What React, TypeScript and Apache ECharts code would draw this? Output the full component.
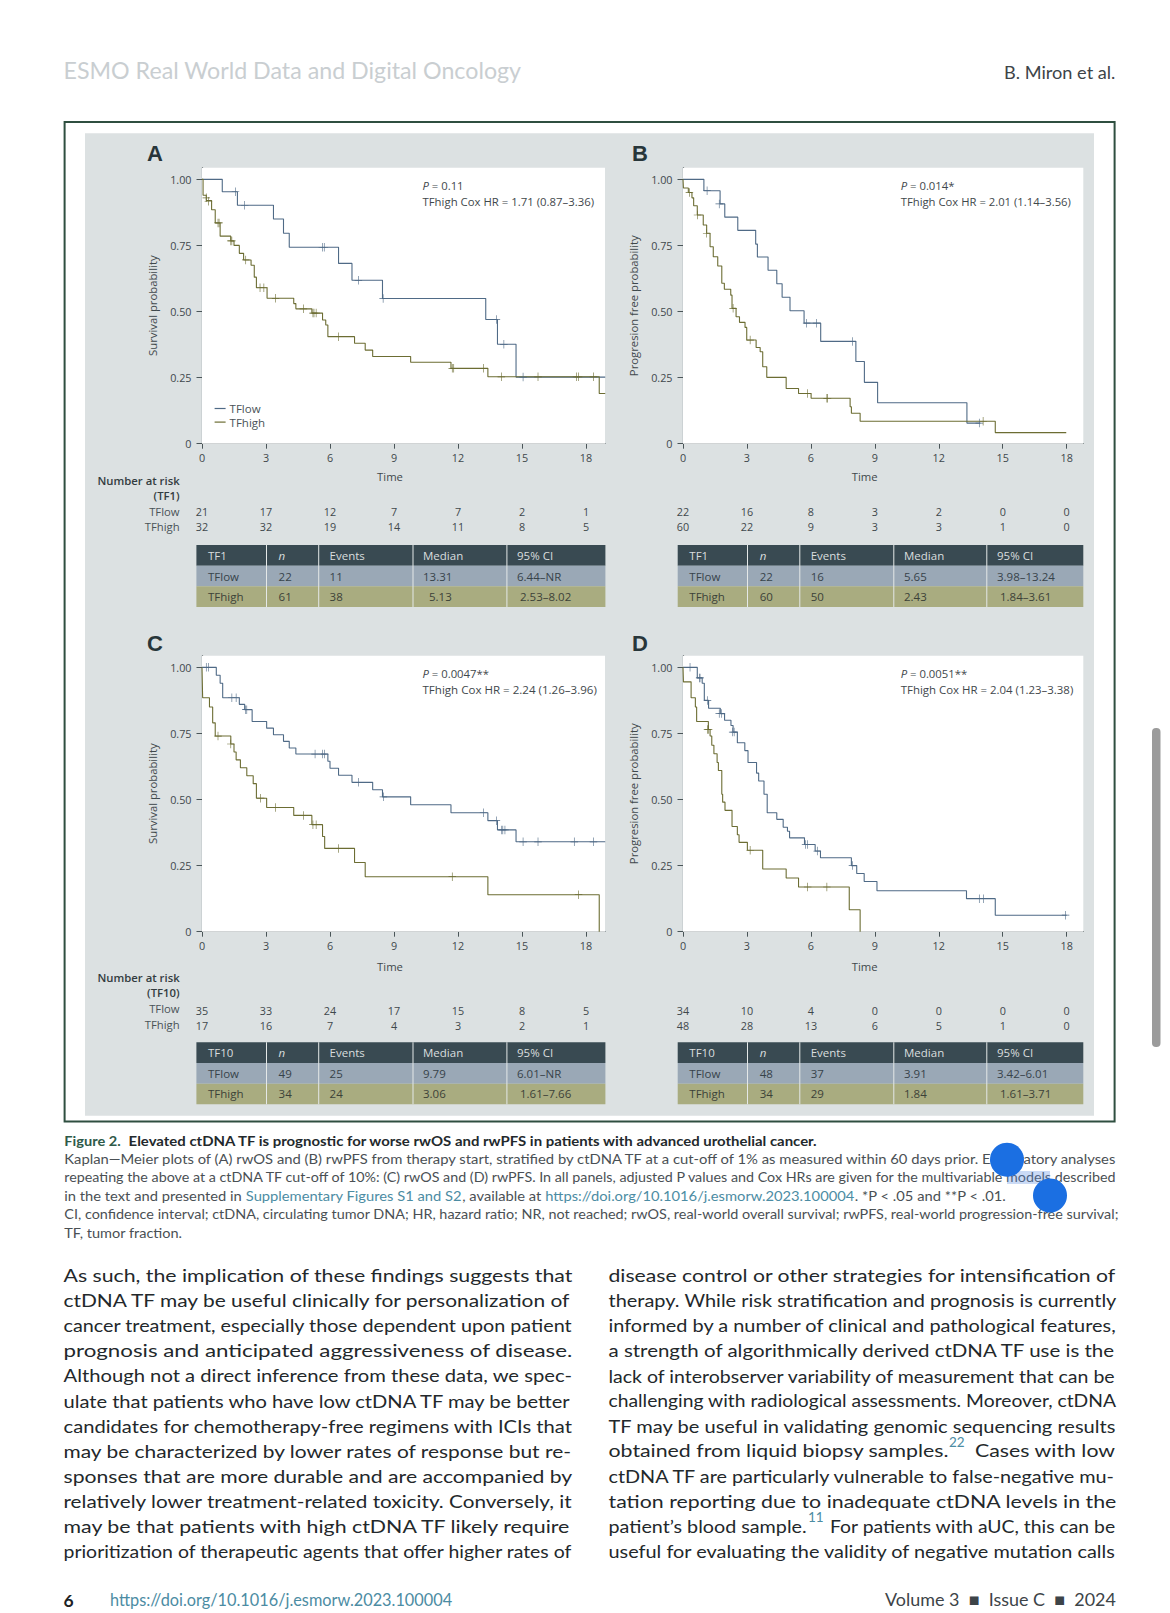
import React, { useEffect, useRef } from "react";
import * as echarts from "echarts";

const FONT = '"Open Sans"';
const BODY = "Lato";
const BODY_FIX = 1.004;
const LOW = "#4f6a86";
const HIGH = "#6c6d33";

const monthTicks = [0, 3, 6, 9, 12, 15, 18];
const probTicks = [0, 0.25, 0.5, 0.75, 1];

const aLow = [[0,1],[0.95,0.953],[1.66,0.902],[3.35,0.85],[3.82,0.796],[4.09,0.743],[6.4,0.682],[7.03,0.618],[8.46,0.549],[13.3,0.47],[13.85,0.376],[14.72,0.252],[18.9,0.252]];
const aLowCensor = [[1.57,0.953],[2.0,0.902],[5.64,0.743],[5.73,0.743],[7.33,0.618],[8.49,0.549],[13.8,0.47],[14.15,0.376],[15.05,0.252]];
const aHigh = [[0,1],[0.05,0.94],[0.2,0.92],[0.45,0.885],[0.62,0.835],[0.85,0.785],[1.35,0.767],[1.5,0.75],[1.75,0.72],[1.95,0.695],[2.3,0.675],[2.45,0.63],[2.55,0.59],[3.05,0.55],[4.3,0.53],[4.4,0.51],[5.15,0.494],[5.65,0.468],[5.8,0.449],[5.9,0.405],[7.15,0.38],[7.65,0.354],[8.0,0.33],[9.78,0.308],[11.67,0.285],[13.4,0.253],[18.62,0.19],[18.9,0.19]];
const aHighCensor = [[0.2,0.93],[0.3,0.917],[0.75,0.835],[0.8,0.835],[1.35,0.767],[1.4,0.767],[2.05,0.695],[2.72,0.59],[2.9,0.59],[3.45,0.55],[4.75,0.51],[5.2,0.494],[5.25,0.494],[5.35,0.494],[6.4,0.405],[11.73,0.285],[11.8,0.285],[13.2,0.285],[14.03,0.253],[15.75,0.253],[17.55,0.253],[17.65,0.253],[18.35,0.253]];

const bLow = [[0,1],[0.98,0.957],[1.74,0.907],[1.96,0.857],[2.57,0.807],[3.41,0.755],[3.49,0.706],[3.99,0.656],[4.4,0.605],[4.65,0.554],[5.02,0.503],[5.68,0.456],[6.46,0.387],[8.11,0.311],[8.51,0.232],[9.13,0.155],[13.32,0.078],[13.95,0.078]];
const bLowCensor = [[1.13,0.957],[1.7,0.907],[5.8,0.456],[6.27,0.456],[7.95,0.387],[13.9,0.078]];
const bHigh = [[0,1],[0.02,0.967],[0.25,0.95],[0.42,0.93],[0.5,0.9],[0.67,0.865],[0.95,0.827],[1.11,0.796],[1.27,0.745],[1.42,0.707],[1.63,0.672],[1.82,0.607],[1.94,0.584],[2.24,0.562],[2.3,0.512],[2.49,0.48],[2.65,0.459],[2.91,0.44],[2.99,0.392],[3.43,0.364],[3.62,0.348],[3.74,0.291],[3.93,0.251],[4.84,0.209],[5.42,0.19],[6.01,0.172],[7.84,0.14],[7.9,0.115],[8.31,0.085],[14.65,0.042],[17.98,0.042]];
const bHighCensor = [[0.3,0.95],[0.68,0.865],[1.11,0.796],[2.35,0.512],[3.15,0.392],[5.85,0.19],[6.75,0.172],[6.78,0.172],[14.08,0.085]];

const cLow = [[0,1],[0.67,0.97],[0.85,0.94],[0.97,0.885],[1.75,0.86],[2.0,0.84],[2.35,0.795],[3.03,0.77],[3.35,0.745],[3.82,0.72],[4.09,0.695],[4.4,0.672],[5.9,0.645],[6.0,0.618],[6.4,0.592],[7.03,0.565],[8.0,0.537],[8.46,0.51],[9.78,0.48],[11.67,0.45],[13.4,0.42],[13.85,0.385],[14.72,0.34],[18.9,0.34]];
const cLowCensor = [[0.2,1],[0.3,1],[1.4,0.885],[1.6,0.885],[2.05,0.84],[2.1,0.84],[5.3,0.672],[5.65,0.672],[5.75,0.672],[7.33,0.565],[8.5,0.51],[13.2,0.45],[13.8,0.42],[14.05,0.385],[14.1,0.385],[14.2,0.385],[15.05,0.34],[15.75,0.34],[17.45,0.34],[18.35,0.34]];
const cHigh = [[0,1],[0.03,0.885],[0.35,0.85],[0.5,0.79],[0.62,0.74],[1.35,0.71],[1.5,0.68],[1.6,0.65],[1.8,0.62],[2.1,0.59],[2.4,0.56],[2.55,0.505],[3.03,0.47],[4.3,0.44],[5.15,0.405],[5.65,0.36],[5.75,0.315],[7.15,0.262],[7.65,0.208],[13.4,0.14],[18.62,0]];
const cHighCensor = [[0.75,0.74],[1.35,0.71],[2.75,0.505],[3.45,0.47],[4.75,0.44],[5.2,0.405],[5.35,0.405],[6.4,0.315],[11.73,0.208],[17.65,0.14]];

const dLow = [[0,1],[0.67,0.96],[0.9,0.94],[1.0,0.875],[1.2,0.845],[1.75,0.825],[1.95,0.8],[2.25,0.78],[2.35,0.755],[2.55,0.715],[2.9,0.685],[3.05,0.64],[3.45,0.6],[3.55,0.57],[3.8,0.52],[3.95,0.45],[4.4,0.425],[4.7,0.395],[4.9,0.38],[5.0,0.355],[5.7,0.33],[6.2,0.305],[6.45,0.28],[7.9,0.25],[8.15,0.22],[8.5,0.19],[9.1,0.155],[13.3,0.125],[14.65,0.0625],[18,0.0625]];
const dLowCensor = [[0.33,1],[0.78,0.96],[0.8,0.96],[1.15,0.875],[1.7,0.825],[1.8,0.825],[2.33,0.755],[2.4,0.755],[5.75,0.33],[5.85,0.33],[6.3,0.305],[7.95,0.25],[13.9,0.125],[14.1,0.125],[17.95,0.0625]];
const dHigh = [[0,1],[0.02,0.945],[0.38,0.885],[0.58,0.85],[0.64,0.795],[1.19,0.765],[1.27,0.74],[1.35,0.705],[1.45,0.673],[1.6,0.64],[1.66,0.61],[1.82,0.52],[1.86,0.49],[1.97,0.459],[2.3,0.398],[2.55,0.367],[2.63,0.338],[3.02,0.308],[3.74,0.237],[4.84,0.203],[5.42,0.169],[7.8,0.083],[8.31,0]];
const dHighCensor = [[1.15,0.765],[1.2,0.765],[3.15,0.308],[5.85,0.169],[6.75,0.169]];

const riskA = [["21","17","12","7","7","2","1"],["32","32","19","14","11","8","5"]];
const riskB = [["22","16","8","3","2","0","0"],["60","22","9","3","3","1","0"]];
const riskC = [["35","33","24","17","15","8","5"],["17","16","7","4","3","2","1"]];
const riskD = [["34","10","4","0","0","0","0"],["48","28","13","6","5","1","0"]];

const tableA = [["TF1","n","Events","Median","95% CI"],["TFlow","22","11","13.31","6.44–NR"],["TFhigh","61","38","5.13","2.53–8.02"]];
const tableB = [["TF1","n","Events","Median","95% CI"],["TFlow","22","16","5.65","3.98–13.24"],["TFhigh","60","50","2.43","1.84–3.61"]];
const tableC = [["TF10","n","Events","Median","95% CI"],["TFlow","49","25","9.79","6.01–NR"],["TFhigh","34","24","3.06","1.61–7.66"]];
const tableD = [["TF10","n","Events","Median","95% CI"],["TFlow","48","37","3.91","3.42–6.01"],["TFhigh","34","29","1.84","1.61–3.71"]];

const bodyLeft = [
  "As such, the implication of these findings suggests that",
  "ctDNA TF may be useful clinically for personalization of",
  "cancer treatment, especially those dependent upon patient",
  "prognosis and anticipated aggressiveness of disease.",
  "Although not a direct inference from these data, we spec-",
  "ulate that patients who have low ctDNA TF may be better",
  "candidates for chemotherapy-free regimens with ICIs that",
  "may be characterized by lower rates of response but re-",
  "sponses that are more durable and are accompanied by",
  "relatively lower treatment-related toxicity. Conversely, it",
  "may be that patients with high ctDNA TF likely require",
  "prioritization of therapeutic agents that offer higher rates of",
];
const bodyRight = [
  "disease control or other strategies for intensification of",
  "therapy. While risk stratification and prognosis is currently",
  "informed by a number of clinical and pathological features,",
  "a strength of algorithmically derived ctDNA TF use is the",
  "lack of interobserver variability of measurement that can be",
  "challenging with radiological assessments. Moreover, ctDNA",
  "TF may be useful in validating genomic sequencing results",
  "",
  "ctDNA TF are particularly vulnerable to false-negative mu-",
  "tation reporting due to inadequate ctDNA levels in the",
  "",
  "useful for evaluating the validity of negative mutation calls",
];
const captionLines = [
  "Kaplan—Meier plots of (A) rwOS and (B) rwPFS from therapy start, stratified by ctDNA TF at a cut-off of 1% as measured within 60 days prior. Exploratory analyses",
  "repeating the above at a ctDNA TF cut-off of 10%: (C) rwOS and (D) rwPFS. In all panels, adjusted P values and Cox HRs are given for the multivariable models described",
];
const captionLast = "CI, confidence interval; ctDNA, circulating tumor DNA; HR, hazard ratio; NR, not reached; rwOS, real-world overall survival; rwPFS, real-world progression-free survival;";

const canvasCtx = document.createElement("canvas").getContext("2d") as CanvasRenderingContext2D;
const widthOf = (t: string, size: number, weight = "normal", family = FONT) => {
  canvasCtx.font = `${weight} ${size}px ${family}`;
  return canvasCtx.measureText(t).width;
};

const txt = (text: string, x: number, y: number, size: number, fill: string, o: any = {}) => ({
  type: "text",
  x,
  y,
  scaleX: o.scaleX ?? 1,
  z: 20,
  silent: true,
  style: {
    text,
    fill,
    fontSize: size,
    fontFamily: o.family ?? FONT,
    fontWeight: o.weight ?? "normal",
    fontStyle: o.italic ? "italic" : "normal",
    align: o.align ?? "left",
    textAlign: o.align ?? "left",
    verticalAlign: "middle",
    textVerticalAlign: "middle",
    rich: o.rich,
  },
});

const fit = (text: string, x0: number, x1: number, y: number, size: number, fill: string, weight = "normal", family = FONT) =>
  txt(text, x0, y, size, fill, { weight, family, scaleX: ((x1 - x0) / widthOf(text, size, weight, family)) * (family === BODY ? BODY_FIX : 1) });

const rect = (x: number, y: number, w: number, h: number, fill: string, z = 5, extra: any = {}) => ({
  type: "rect",
  z,
  silent: true,
  shape: { x, y, width: w, height: h, r: extra.r ?? 0 },
  style: { fill, stroke: extra.stroke, lineWidth: extra.lineWidth ?? 0 },
});

const panels = [
  { letter: "A", left: 202, top: 167.7, right: 605, xMax: 18.89, low: aLow, lowC: aLowCensor, high: aHigh, highC: aHighCensor, yName: "Survival probability", p: "= 0.11", hr: "TFhigh Cox HR = 1.71 (0.87–3.36)", risk: riskA, table: tableA, tfName: "(TF1)", shift: 27, riskOff: 343.8, tableOff: 377.3, nameGap: 27, letterOff: -14.7 },
  { letter: "B", left: 683, top: 167.7, right: 1083.3, xMax: 18.78, low: bLow, lowC: bLowCensor, high: bHigh, highC: bHighCensor, yName: "Progresion free probability", p: " = 0.014*", hr: "TFhigh Cox HR = 2.01 (1.14–3.56)", risk: riskB, table: tableB, tfName: "", shift: 37, riskOff: 343.8, tableOff: 377.3, nameGap: 27, letterOff: -14.7 },
  { letter: "C", left: 202, top: 655.7, right: 605, xMax: 18.89, low: cLow, lowC: cLowCensor, high: cHigh, highC: cHighCensor, yName: "Survival probability", p: "= 0.0047**", hr: "TFhigh Cox HR = 2.24 (1.26–3.96)", risk: riskC, table: tableC, tfName: "(TF10)", shift: 27, riskOff: 354.3, tableOff: 386.6, nameGap: 29, letterOff: -12.7 },
  { letter: "D", left: 683, top: 655.7, right: 1083.3, xMax: 18.78, low: dLow, lowC: dLowCensor, high: dHigh, highC: dHighCensor, yName: "Progresion free probability", p: " = 0.0051**", hr: "TFhigh Cox HR = 2.04 (1.23–3.38)", risk: riskD, table: tableD, tfName: "", shift: 37, riskOff: 354.3, tableOff: 386.6, nameGap: 29, letterOff: -12.7 },
];

const PLOT_H = 276;
const PLUS = "path://M4.6 0h0.8v4.6h4.6v0.8h-4.6v4.6h-0.8v-4.6h-4.6v-0.8h4.6z";

function tableGraphics(p: any) {
  const isLeft = p.left < 400;
  const x0 = isLeft ? 196.4 : 677.7;
  const x1 = p.right + (isLeft ? 0.4 : 0);
  const seps = isLeft ? [266, 318.2, 412.5, 506.4] : [747, 799.3, 893.3, 986.3];
  const tx = isLeft ? [208, 278.6, 329.6, 423, 517] : [689.3, 759.7, 810.7, 904, 997];
  const top = p.top + p.tableOff;
  const rowH = 20.67;
  const fills = ["#394a52", "#9aa8b6", "#a9ac80"];
  const colors = ["#d9dedf", "#37434a", "#3c4238"];
  const out: any[] = [];
  fills.forEach((f, r) => {
    out.push(rect(x0, top + r * rowH, x1 - x0, rowH, f, 6));
    p.table[r].forEach((cell: string, c: number) => {
      let x = tx[c];
      if (r === 2 && c === 4) x += 3;
      if (r === 2 && c === 3 && p.letter === "A") x += 6;
      out.push(txt(cell, x, top + (r + 0.5) * rowH, 11.5, colors[r], { italic: r === 0 && c === 1 }));
    });
  });
  seps.forEach((s) => out.push(rect(s, top, 1, rowH * 3, "#e4e8e8", 7)));
  return out;
}

function panelGraphics(p: any) {
  const isLeft = p.left < 400;
  const pxPerMonth = (p.right - p.left) / p.xMax;
  const annX = isLeft ? 422.5 : 900.7;
  const out: any[] = [];
  out.push(txt(p.letter, isLeft ? 147 : 632, p.top + p.letterOff, 22, "#28363a", { weight: "bold", family: '"Liberation Sans"' }));
  const rich = {
    i: { fontStyle: "italic", fontSize: 11.3, fontFamily: FONT, fill: "#3f484c" },
    n: { fontSize: 11.3, fontFamily: FONT, fill: "#3f484c" },
  };
  out.push(txt(`{i|P}{n| ${p.p.trim()}}`, annX, p.top + 17.5, 11.3, "#3f484c", { rich }));
  out.push(fit(p.hr, annX, isLeft ? (p.letter === "A" ? 594 : 597) : p.letter === "B" ? 1071 : 1073.5, p.top + 33.5, 11.3, "#3f484c"));
  const yLow = p.top + p.riskOff;
  p.risk.forEach((row: string[], r: number) => {
    row.forEach((v, i) => {
      out.push(txt(v, p.left + monthTicks[i] * pxPerMonth, yLow + r * 15.4, 10.8, "#3f484c", { align: "center" }));
    });
  });
  if (isLeft) {
    const ny = p.top + (p.letter === "A" ? 312.3 : 321.6);
    const lx = 179.6;
    out.push(txt("Number at risk", lx, ny, 11.3, "#333c40", { align: "right", weight: 600 }));
    out.push(txt(p.tfName, lx, ny + 15.6, 11.3, "#333c40", { align: "right", weight: 600 }));
    out.push(txt("TFlow", lx, ny + 31.2, 11.3, "#4a5357", { align: "right" }));
    out.push(txt("TFhigh", lx, ny + 46.8, 11.3, "#4a5357", { align: "right" }));
  }
  return out.concat(tableGraphics(p));
}

function pageGraphics() {
  const out: any[] = [];
  // page frame and grey panel
  out.push(rect(64.6, 122, 1050, 999.6, "#ffffff", -2, { stroke: "#2f4f40", lineWidth: 2 }));
  out.push(rect(85, 133.3, 1009, 982.4, "#dce1e2", -1));
  // header
  out.push(fit("ESMO Real World Data and Digital Oncology", 63.5, 519.5, 70, 24, "#c9ced1", "normal", BODY));
  out.push(fit("B. Miron et al.", 1004, 1115, 72, 17.5, "#3d4448", "normal", BODY));
  // caption
  const capCol = "#4a5054";
  const cap = 13;
  out.push(fit("Figure 2.", 64.3, 120.5, 1140.7, cap, "#2e5a49", "bold", BODY));
  out.push(fit("Elevated ctDNA TF is prognostic for worse rwOS and rwPFS in patients with advanced urothelial cancer.", 128.6, 816.5, 1140.7, cap, "#23292c", "bold", BODY));
  out.push(fit(captionLines[0], 64.3, 1115.5, 1158.8, cap, capCol, "normal", BODY));
  out.push(fit(captionLines[1], 64.3, 1115.5, 1177.2, cap, capCol, "normal", BODY));
  const link = "#4c8ca3";
  const p1 = "in the text and presented in ";
  const p2 = "Supplementary Figures S1 and S2";
  const p3 = ", available at ";
  const p4 = "https://doi.org/10.1016/j.esmorw.2023.100004";
  const p5 = ". *P < .05 and **P < .01.";
  const wCap = widthOf(p1 + p2 + p3 + p4 + p5, cap, "normal", BODY);
  out.push(
    txt(`{a|${p1}}{b|${p2}}{a|${p3}}{b|${p4}}{a|${p5}}`, 64.3, 1195.6, cap, capCol, {
      family: BODY,
      scaleX: (1007 - 64.3) / wCap,
      rich: {
        a: { fill: capCol, fontSize: cap, fontFamily: BODY },
        b: { fill: link, fontSize: cap, fontFamily: BODY },
      },
    })
  );
  out.push(fit(captionLast, 64.3, 1115.5, 1214.2, cap, capCol, "normal", BODY));
  out.push(fit("TF, tumor fraction.", 64.3, 182, 1232.6, cap, capCol, "normal", BODY));
  // body
  const bodyCol = "#23282b";
  const bs = 18;
  const y0 = 1275;
  const pitch = 25.09;
  bodyLeft.forEach((l, i) => out.push(fit(l, 63.5, 571, y0 + i * pitch, bs, bodyCol, "normal", BODY)));
  bodyRight.forEach((l, i) => {
    if (l) out.push(fit(l, 608.5, 1115, y0 + i * pitch, bs, bodyCol, "normal", BODY));
  });
  const y7 = y0 + 7 * pitch;
  out.push(fit("obtained from liquid biopsy samples.", 608.5, 948, y7, bs, bodyCol, "normal", BODY));
  out.push(txt("22", 949, y7 - 9, 13.5, link, { family: BODY }));
  out.push(fit("Cases with low", 975, 1115, y7, bs, bodyCol, "normal", BODY));
  const y10 = y0 + 10 * pitch;
  out.push(fit("patient’s blood sample.", 608.5, 806, y10, bs, bodyCol, "normal", BODY));
  out.push(txt("11", 808, y10 - 9, 13.5, link, { family: BODY }));
  out.push(fit("For patients with aUC, this can be", 830, 1115, y10, bs, bodyCol, "normal", BODY));
  // footer
  out.push(txt("6", 63.4, 1600, 17.5, "#1d2225", { weight: "bold", family: BODY }));
  out.push(fit("https://doi.org/10.1016/j.esmorw.2023.100004", 110, 451, 1600, 17, link, "normal", BODY));
  out.push(fit("Volume 3  ■  Issue C  ■  2024", 885, 1115, 1600, 17.5, "#3d4448", "normal", BODY));
  // phone selection overlay
  out.push(rect(1007, 1171, 43, 13, "rgba(90,140,225,0.32)", 21));
  out.push({ type: "circle", z: 22, silent: true, shape: { cx: 1007, cy: 1159.7, r: 17 }, style: { fill: "#1b6fe2" } });
  out.push({ type: "circle", z: 22, silent: true, shape: { cx: 1050, cy: 1195.5, r: 17 }, style: { fill: "#1b6fe2" } });
  out.push(rect(1152, 728, 8.5, 319, "#9b9b9b", 22, { r: 4 }));
  return out;
}

function buildOption() {
  const grid: any[] = [];
  const xAxis: any[] = [];
  const yAxis: any[] = [];
  const series: any[] = [];
  const graphic: any[] = pageGraphics();
  const axisCol = "#4a5558";
  panels.forEach((p, i) => {
    grid.push({ left: p.left, top: p.top, width: p.right - p.left, height: PLOT_H, show: true, backgroundColor: "#ffffff", borderWidth: 0, z: 1 });
    xAxis.push({
      type: "value",
      gridIndex: i,
      min: 0,
      max: p.xMax,
      name: "Time",
      nameLocation: "middle",
      nameGap: p.nameGap,
      nameTextStyle: { color: "#3f484c", fontSize: 11.3, fontFamily: FONT, padding: [0, p.shift, 0, 0] },
      axisLine: { show: true, onZero: false, lineStyle: { color: axisCol, width: 1.2 } },
      axisTick: { show: true, length: 5, lineStyle: { color: axisCol, width: 1 }, customValues: monthTicks },
      axisLabel: { color: "#3f484c", fontSize: 10.8, fontFamily: FONT, margin: 8, customValues: monthTicks, formatter: (v: number) => String(v) },
      splitLine: { show: false },
    });
    yAxis.push({
      type: "value",
      gridIndex: i,
      min: 0,
      max: 1.044,
      name: p.yName,
      nameLocation: "middle",
      nameGap: 44,
      nameTextStyle: { color: "#3f484c", fontSize: 11.3, fontFamily: FONT },
      axisLine: { show: true, onZero: false, lineStyle: { color: axisCol, width: 1.2 } },
      axisTick: { show: true, length: 5.5, lineStyle: { color: axisCol, width: 1 }, customValues: probTicks },
      axisLabel: { color: "#3f484c", fontSize: 10.8, fontFamily: FONT, margin: 10.5, customValues: probTicks, formatter: (v: number) => (v === 0 ? "0" : v.toFixed(2)) },
      splitLine: { show: false },
    });
    const mk = (name: string, data: any, color: string) => ({
      name,
      type: "line",
      xAxisIndex: i,
      yAxisIndex: i,
      step: "end",
      symbol: "none",
      lineStyle: { color, width: 1.1 },
      itemStyle: { color },
      data,
      z: 3,
    });
    const ce = (name: string, data: any, color: string) => ({
      name,
      type: "scatter",
      xAxisIndex: i,
      yAxisIndex: i,
      symbol: PLUS,
      symbolSize: [7.5, 8.5],
      itemStyle: { color, opacity: 1 },
      data,
      z: 4,
    });
    series.push(mk("TFlow", p.low, LOW), ce("TFlow censored", p.lowC, LOW), mk("TFhigh", p.high, HIGH), ce("TFhigh censored", p.highC, HIGH));
    graphic.push(...panelGraphics(p));
  });
  return {
    animation: false,
    backgroundColor: "#ffffff",
    grid,
    xAxis,
    yAxis,
    series,
    graphic,
    legend: {
      left: 214.6,
      top: 402.5,
      orient: "vertical",
      selectedMode: false,
      icon: "rect",
      itemWidth: 11,
      itemHeight: 1.2,
      itemGap: 1.6,
      padding: 0,
      textStyle: { color: "#4a5357", fontSize: 11.5, fontFamily: FONT, padding: [0, 0, 0, -1] },
      data: ["TFlow", "TFhigh"],
    },
  };
}

export default function App() {
  const ref = useRef<HTMLDivElement>(null);
  useEffect(() => {
    document.body.style.margin = "0";
    const chart = echarts.init(ref.current as HTMLDivElement, undefined, { renderer: "svg", width: 1170, height: 1613 });
    chart.setOption(buildOption() as any);
    return () => chart.dispose();
  }, []);
  return <div ref={ref} style={{ position: "absolute", left: 0, top: 0, width: 1170, height: 1613 }} />;
}
